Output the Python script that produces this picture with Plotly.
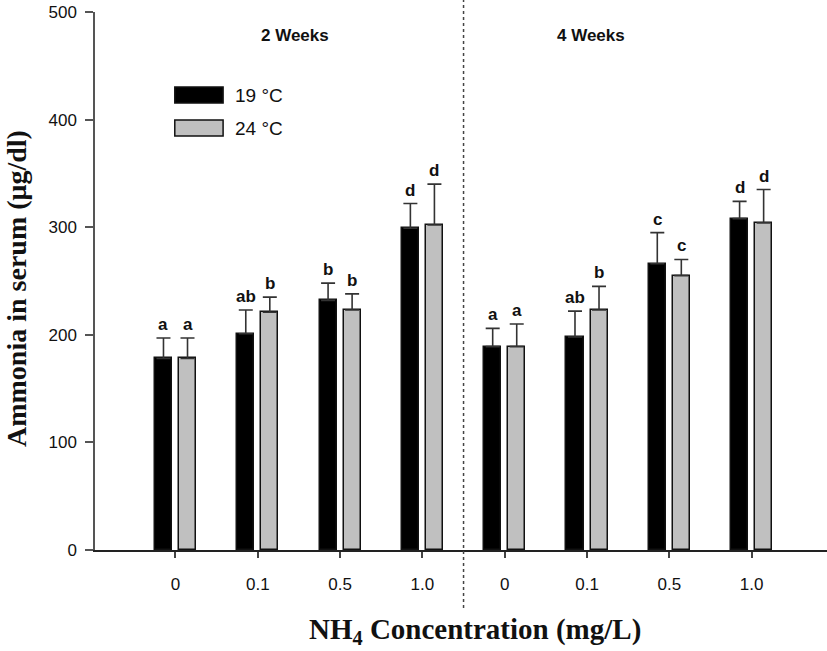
import plotly.graph_objects as go

categories = ["0", "0.1", "0.5", "1.0", "0", "0.1", "0.5", "1.0"]
positions = [1, 2, 3, 4, 5, 6, 7, 8]
mean_19 = [178, 201, 232, 299, 189, 198, 266, 308]
err_19 = [19, 22, 16, 23, 17, 24, 29, 16]
mean_24 = [178, 221, 223, 302, 189, 223, 255, 304]
err_24 = [19, 14, 15, 38, 21, 22, 15, 31]
letters_19 = ["a", "ab", "b", "d", "a", "ab", "c", "d"]
letters_24 = ["a", "b", "b", "d", "a", "b", "c", "d"]
period_labels = ["2 Weeks", "4 Weeks"]
series_names = ["19 °C", "24 °C"]
x_title = "<b>NH<sub>4</sub> Concentration (mg/L)</b>"
y_title = "<b>Ammonia in serum (μg/dl)</b>"

OFF = 0.146
W = 0.207
BLACK = "#000000"
GRAY = "#c0c0c0"
AXC = "#555555"
SANS = "Liberation Sans, Arial"
SERIF = "Liberation Serif, Times New Roman"

x19 = [p - OFF for p in positions]
x24 = [p + OFF for p in positions]

fig = go.Figure()
fig.add_trace(go.Bar(
    x=x19, y=mean_19, width=W, name=series_names[0],
    marker=dict(color=BLACK, line=dict(color="#111111", width=1.5)),
    error_y=dict(type="data", array=err_19, arrayminus=[0]*8, symmetric=False,
                 color="#333333", thickness=1.6, width=7),
    showlegend=False,
))
fig.add_trace(go.Bar(
    x=x24, y=mean_24, width=W, name=series_names[1],
    marker=dict(color=GRAY, line=dict(color="#111111", width=1.5)),
    error_y=dict(type="data", array=err_24, arrayminus=[0]*8, symmetric=False,
                 color="#333333", thickness=1.6, width=7),
    showlegend=False,
))

annots = []
for xs, ms, es, ls in [(x19, mean_19, err_19, letters_19), (x24, mean_24, err_24, letters_24)]:
    for x, m, e, l in zip(xs, ms, es, ls):
        annots.append(dict(x=x, y=m + e, text="<b>" + l + "</b>", showarrow=False, xref="x", yref="y",
                           yanchor="bottom", yshift=2,
                           font=dict(family=SANS, size=17, color="#111111")))

# period labels
annots.append(dict(x=2.45, y=1.0, xref="x", yref="paper", text="<b>" + period_labels[0] + "</b>", showarrow=False,
                   yanchor="middle", yshift=-23,
                   font=dict(family=SANS, size=17, color="#111111")))
annots.append(dict(x=6.05, y=1.0, xref="x", yref="paper", text="<b>" + period_labels[1] + "</b>", showarrow=False,
                   yanchor="middle", yshift=-23,
                   font=dict(family=SANS, size=17, color="#111111")))

# legend
shapes = []
lx0, lx1 = 0.109, 0.175
ly = [(1 - (87 - 12) / 538, 1 - (103 - 12) / 538), (1 - (120 - 12) / 538, 1 - (136 - 12) / 538)]
for (yt, yb), col, name in zip(ly, [BLACK, GRAY], series_names):
    shapes.append(dict(type="rect", xref="paper", yref="paper", x0=lx0, x1=lx1, y0=yb, y1=yt,
                       fillcolor=col, line=dict(color="#111111", width=1.5)))
    annots.append(dict(x=lx1 + 0.014, y=(yt + yb) / 2, xref="paper", yref="paper", text=name,
                       showarrow=False, xanchor="left", yanchor="middle",
                       font=dict(family=SANS, size=19, color="#111111")))

# axis titles
annots.append(dict(x=(475 - 95) / 732, y=(550 - 631) / 538, xref="paper", yref="paper", text=x_title,
                   showarrow=False, xanchor="center", yanchor="middle",
                   font=dict(family=SERIF, size=29, color="#111111")))
annots.append(dict(x=(16 - 95) / 732, y=(550 - 289) / 538, xref="paper", yref="paper", text=y_title,
                   showarrow=False, xanchor="center", yanchor="middle", textangle=-90,
                   font=dict(family=SERIF, size=28, color="#111111")))

# dotted separator
shapes.append(dict(type="line", xref="x", yref="paper", x0=4.5, x1=4.5,
                   y0=(550 - 608) / 538, y1=(550 - 0) / 538,
                   line=dict(color="#444444", width=1.5, dash="dot")))

fig.update_layout(
    width=827, height=651,
    margin=dict(l=95, r=0, t=12, b=101),
    plot_bgcolor="white", paper_bgcolor="white",
    bargap=0, barmode="overlay",
    shapes=shapes, annotations=annots,
    xaxis=dict(range=[0.022, 8.916], tickvals=positions, ticktext=categories, automargin=False,
               showgrid=False, zeroline=False, showline=True, linecolor="#222222", linewidth=1.5,
               ticks="outside", ticklen=6, tickcolor="#444444", tickwidth=1.5,
               ticklabelstandoff=12, ticklabeloverflow="allow",
               tickfont=dict(family=SANS, size=17, color="#111111")),
    yaxis=dict(range=[0, 500], tickvals=[0, 100, 200, 300, 400, 500], automargin=False,
               showgrid=False, zeroline=False, showline=True, linecolor=AXC, linewidth=1.5,
               ticks="outside", ticklen=8, tickcolor=AXC, tickwidth=1.5,
               ticklabelstandoff=5, ticklabeloverflow="allow",
               tickfont=dict(family=SANS, size=17, color="#111111")),
)

# remove the browser's default 8px body margin so the figure sits at the page origin
fig.write_html("out.html", config={"displayModeBar": False},
               post_script="document.body.style.margin='0';document.body.style.overflow='hidden';")
